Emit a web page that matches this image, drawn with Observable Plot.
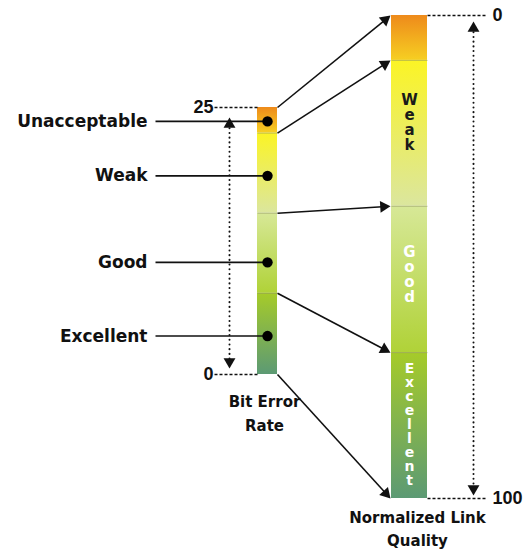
<!DOCTYPE html>
<html><head><meta charset="utf-8">
<script src="https://cdn.jsdelivr.net/npm/d3@7"></script>
<script src="https://cdn.jsdelivr.net/npm/@observablehq/plot@0.6"></script>
<style>html,body{margin:0;padding:0;background:#fff}svg{display:block}</style>
</head><body><div id="chart"></div>
<script>
// ---- data ----
const qualityLevels = ["Unacceptable", "Weak", "Good", "Excellent"];
const berBounds = [25, 22.6, 15.1, 7.6, 0];        // bit error rate, top to bottom
const nlqBounds = [0, 9.3, 39.5, 69.8, 100];       // normalized link quality, top to bottom
const berMarkers = [23.7, 18.6, 10.5, 3.6];        // dot of each level on the BER bar
const berTicks = [25, 0];
const nlqTicks = [0, 100];
const barLabels = ["", "Weak", "Good", "Excellent"];
const berTitle = ["Bit Error", "Rate"];
const nlqTitle = ["Normalized Link", "Quality"];

// ---- styles ----
const segColors = [
  ["#ee8a1b", "#f6cf22"],
  ["#fbf425", "#dbe69e"],
  ["#d7e897", "#b0d238"],
  ["#a6cb29", "#5c9a74"]
];
const labelColors = ["#000", "#1a1a1a", "#fff", "#fff"];
const labelSize = [15, 15, 15, 14];
const labelLH = [1, 1, 1, 1];
const labelDy = [0, -11, -5, -1];

// ---- layout ----
const ber = Plot.scale({y: {domain: [0, 25], range: [374, 107]}});
const nlq = Plot.scale({y: {domain: [0, 100], range: [15, 498]}});
const berBar = {x1: 257, x2: 277};
const nlqBar = {x1: 391, x2: 427};

const berSegs = qualityLevels.map((q, i) => ({level: q, i, y1: ber.apply(berBounds[i]), y2: ber.apply(berBounds[i + 1])}));
const nlqSegs = qualityLevels.map((q, i) => ({level: q, i, y1: nlq.apply(nlqBounds[i]), y2: nlq.apply(nlqBounds[i + 1])}));

const defs = () => {
  const ns = "http://www.w3.org/2000/svg";
  const d = document.createElementNS(ns, "defs");
  segColors.forEach((c, i) => {
    const g = document.createElementNS(ns, "linearGradient");
    g.setAttribute("id", "seg" + i);
    g.setAttribute("x1", "0"); g.setAttribute("y1", "0");
    g.setAttribute("x2", "0"); g.setAttribute("y2", "1");
    c.forEach((col, k) => {
      const s = document.createElementNS(ns, "stop");
      s.setAttribute("offset", k === 0 ? "0%" : "100%");
      s.setAttribute("stop-color", col);
      g.appendChild(s);
    });
    d.appendChild(g);
  });
  return d;
};

// connectors from BER boundaries to NLQ boundaries
const tipGap = 1;
const connectors = berBounds.map((b, i) => {
  const x1 = berBar.x2, y1 = ber.apply(b), x2 = nlqBar.x1 - tipGap, y2 = nlq.apply(nlqBounds[i]);
  const len = Math.hypot(x2 - x1, y2 - y1);
  return {x1, y1, x2, y2, ux: (x2 - x1) / len, uy: (y2 - y1) / len};
});
const headR = 4.4;
const headOff = 2 * Math.sqrt(headR * headR * Math.PI / (Math.sqrt(3) * 3)); // tip distance from centroid

// dotted double-arrows alongside each scale
const berArrowX = 229, nlqArrowX = 473;
const vArrows = [
  {x: berArrowX, y1: ber.apply(berTicks[0]) + 10, y2: ber.apply(berTicks[1]) - 6},
  {x: nlqArrowX, y1: nlq.apply(nlqTicks[0]) + 6, y2: nlq.apply(nlqTicks[1]) - 3}
];
const vHeads = vArrows.flatMap(a => [
  {x: a.x, y: a.y1 + headOff, rot: 0},
  {x: a.x, y: a.y2 - headOff, rot: 180}
]);

const berTickData = berTicks.map(t => ({label: String(t), y: ber.apply(t)}));
const nlqTickData = nlqTicks.map(t => ({label: String(t), y: nlq.apply(t)}));

const levelRows = qualityLevels.map((q, i) => ({label: q, y: ber.apply(berMarkers[i])}));
const innerBer = berBounds.slice(1, -1).map(b => ({y: ber.apply(b)}));
const innerNlq = nlqBounds.slice(1, -1).map(b => ({y: nlq.apply(b)}));

const marks = [
  defs,
  ...berSegs.map(s => Plot.rect([s], {x1: () => berBar.x1, x2: () => berBar.x2, y1: "y1", y2: "y2", fill: `url(#seg${s.i})`})),
  ...nlqSegs.map(s => Plot.rect([s], {x1: () => nlqBar.x1, x2: () => nlqBar.x2, y1: "y1", y2: "y2", fill: `url(#seg${s.i})`})),
  Plot.link(innerBer, {x1: () => berBar.x1, x2: () => berBar.x2, y1: "y", y2: "y", stroke: "#8f9466", strokeOpacity: 0.55, strokeWidth: 1}),
  Plot.link(innerNlq, {x1: () => nlqBar.x1, x2: () => nlqBar.x2, y1: "y", y2: "y", stroke: "#8f9466", strokeOpacity: 0.55, strokeWidth: 1}),
  // stacked letter labels in the NLQ bar
  ...nlqSegs.filter(s => barLabels[s.i]).map(s => Plot.text([s], {
    x: () => (nlqBar.x1 + nlqBar.x2) / 2,
    y: d => (d.y1 + d.y2) / 2,
    dy: labelDy[s.i],
    text: d => barLabels[d.i].split("").join("\n"),
    lineHeight: labelLH[s.i], fontSize: labelSize[s.i], fontWeight: "bold", fill: labelColors[s.i], fontFamily: "DejaVu Sans"
  })),
  // dashed tick leaders
  Plot.link(berTickData, {x1: () => 214, x2: () => berBar.x1, y1: "y", y2: "y", stroke: "#111", strokeWidth: 1.4, strokeDasharray: "3 2"}),
  Plot.link(nlqTickData, {x1: () => nlqBar.x2, x2: () => 487, y1: "y", y2: "y", stroke: "#111", strokeWidth: 1.4, strokeDasharray: "3 2"}),
  Plot.text(berTickData, {x: () => 213, y: "y", text: "label", textAnchor: "end", fontSize: 18, fontWeight: "bold", fontFamily: "Liberation Sans", fill: "#111"}),
  Plot.text(nlqTickData, {x: () => 492, y: "y", text: "label", textAnchor: "start", fontSize: 18, fontWeight: "bold", fontFamily: "Liberation Sans", fill: "#111"}),
  // dotted double arrows
  Plot.link(vArrows, {x1: "x", x2: "x", y1: d => d.y1 + 6, y2: d => d.y2 - 6, stroke: "#111", strokeWidth: 2, strokeDasharray: "0.1 4.6", strokeLinecap: "round"}),
  Plot.dot(vHeads, {x: "x", y: "y", rotate: "rot", symbol: "triangle", r: headR, fill: "#111", stroke: "none"}),
  // level labels and markers
  Plot.link(levelRows, {x1: () => 155, x2: () => (berBar.x1 + berBar.x2) / 2, y1: "y", y2: "y", stroke: "#111", strokeWidth: 1.6}),
  Plot.dot(levelRows, {x: () => (berBar.x1 + berBar.x2) / 2, y: "y", r: 5.2, fill: "#000", stroke: "none"}),
  Plot.text(levelRows, {x: () => 147, y: "y", text: "label", textAnchor: "end", fontSize: 17, fontWeight: "bold", fontFamily: "DejaVu Sans", fill: "#111"}),
  // connectors
  Plot.link(connectors, {x1: "x1", y1: "y1", x2: d => d.x2 - d.ux * 4, y2: d => d.y2 - d.uy * 4, stroke: "#111", strokeWidth: 1.6}),
  Plot.dot(connectors, {
    x: d => d.x2 - d.ux * headOff, y: d => d.y2 - d.uy * headOff,
    rotate: d => Math.atan2(d.ux, -d.uy) * 180 / Math.PI,
    symbol: "triangle", r: headR, fill: "#111", stroke: "none"
  }),
  // titles
  Plot.text([berTitle.join("\n")], {x: () => 264, y: () => 411, text: d => d, lineHeight: 1.6, fontSize: 15, fontWeight: "bold", fontFamily: "DejaVu Sans", fill: "#111"}),
  Plot.text([nlqTitle.join("\n")], {x: () => 417, y: () => 527, text: d => d, lineHeight: 1.5, fontSize: 15, fontWeight: "bold", fontFamily: "DejaVu Sans", fill: "#111"})
];

const chart = Plot.plot({
  width: 532, height: 550, margin: 0,
  x: {type: "identity", axis: null},
  y: {type: "identity", axis: null},
  style: {background: "#fff", fontFamily: "DejaVu Sans"},
  marks
});
document.getElementById("chart").appendChild(chart);
</script>
</body></html>
